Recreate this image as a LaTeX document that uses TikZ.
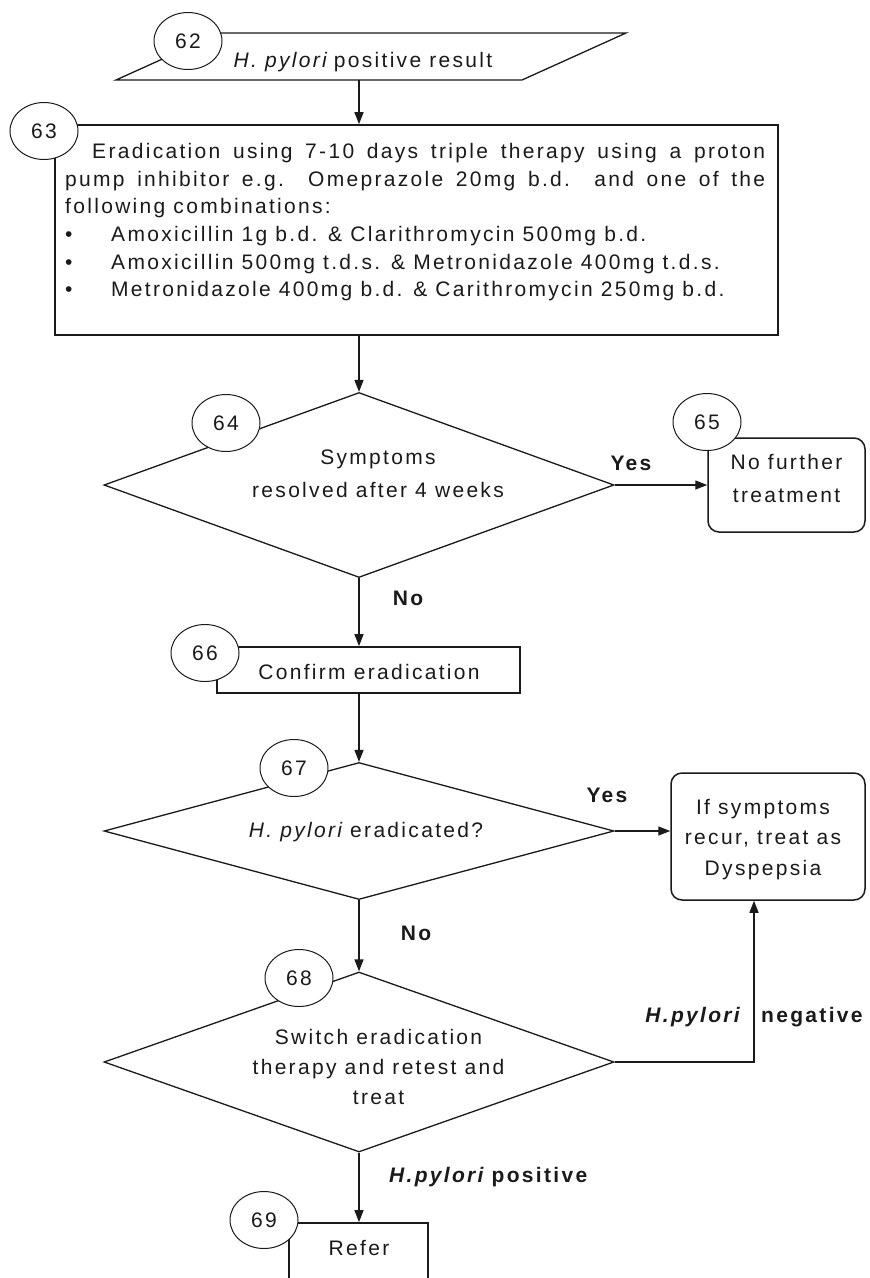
\documentclass[tikz,border=0pt]{standalone}
\usepackage{fontspec}
\setmainfont{Liberation Sans}[LetterSpace=11]
\usetikzlibrary{shapes.geometric,arrows.meta}
\definecolor{ink}{HTML}{1A1A1A}
\begin{document}
\begin{tikzpicture}[x=1pt,y=-1pt,
  font=\fontsize{21}{28.2}\selectfont, text=ink,
  every node/.style={inner sep=0pt},
  num/.style={ellipse, draw=ink, line width=1pt, fill=white,
    minimum width=68pt, minimum height=57pt},
  procbox/.style={rectangle, draw=ink, line width=1.7pt},
  endbox/.style={rectangle, rounded corners=11pt, draw=ink, line width=1.5pt},
  decision/.style={diamond, draw=ink, line width=1.3pt},
  flow/.style={draw=ink, line width=1.4pt, -{Triangle[length=12pt,width=9pt]}},
  lbl/.style={font=\fontsize{21}{28}\selectfont\bfseries},
  multi/.style={align=center}
]
\useasboundingbox[fill=white] (0,0) rectangle (870,1278);
\clip (0,0) rectangle (870,1278);

% 62: input parallelogram
\draw[ink, line width=1.3pt] (116,80) -- (220,33) -- (626,33) -- (522,80) -- cycle;
\coordinate (p62) at (359,80);
\node[anchor=base] (t62) at (363,67) {\itshape H. pylori\hspace{7pt}\upshape positive result};

% 63: eradication therapy
\node[procbox, minimum width=723pt, minimum height=210pt] (b63) at (416.5,230) {};
\node[anchor=north west, align=left, font=\fontsize{21}{27.6}\selectfont] (t63) at (65,143.2) {%
\hspace*{27pt}\makebox[673pt][s]{Eradication using 7-10 days triple therapy using a proton}\\
\makebox[700pt][s]{pump inhibitor e.g. Omeprazole 20mg b.d. and one of the}\\
following combinations:\\
\makebox[46pt][l]{\textbullet}Amoxicillin 1g b.d. \& Clarithromycin 500mg b.d.\\
\makebox[46pt][l]{\textbullet}Amoxicillin 500mg t.d.s. \& Metronidazole 400mg t.d.s.\\
\makebox[46pt][l]{\textbullet}Metronidazole 400mg b.d. \& Carithromycin 250mg b.d.};

% 64: decision
\node[decision, minimum width=510pt, minimum height=185pt] (d64) at (359,485) {};
\node[multi, font=\fontsize{21}{33}\selectfont] (t64) at (378,473.4) {Symptoms\\resolved after 4 weeks};

% 65: end
\node[endbox, minimum width=157pt, minimum height=94pt] (b65) at (786.5,485) {};
\node[multi, font=\fontsize{21}{33}\selectfont] (t65) at (786.5,478.3) {No further\\treatment};

% 66: process
\node[procbox, minimum width=303pt, minimum height=46pt] (b66) at (368.5,670) {};
\node[anchor=base] (t66) at (369,679.5) {Confirm eradication};

% 67: decision
\node[decision, minimum width=510pt, minimum height=137pt] (d67) at (359,831) {};
\node[anchor=base] (t67) at (366,837.5) {\itshape H. pylori\upshape\ eradicated?};

% Dyspepsia box
\node[endbox, minimum width=194pt, minimum height=127pt] (bD) at (768,836.5) {};
\node[multi, font=\fontsize{21}{30.5}\selectfont] (tD) at (763,839.5) {If symptoms\\recur, treat as\\Dyspepsia};

% 68: decision
\node[decision, minimum width=510pt, minimum height=180pt] (d68) at (359,1062) {};
\node[multi, font=\fontsize{21}{30}\selectfont] (t68) at (378.5,1066.8) {Switch eradication\\therapy and retest and\\treat};

% 69: refer
\node[procbox, minimum width=139pt, minimum height=100pt] (b69) at (358.5,1273) {};
\node[anchor=base] (t69) at (359,1255.5) {Refer};

% connectors
\coordinate (negturn) at (754,1062);
\draw[flow] (p62) -- (p62 |- b63.north);
\draw[flow] (d64.north |- b63.south) -- (d64.north);
\draw[flow] (d64.east) -- (d64.east -| b65.west);
\draw[flow] (d64.south) -- (d64.south |- b66.north);
\draw[flow] (d67.north |- b66.south) -- (d67.north);
\draw[flow] (d67.east) -- (d67.east -| bD.west);
\draw[flow] (d67.south) -- (d68.north);
\draw[flow] (d68.east) -- (negturn) -- (negturn |- bD.south);
\draw[flow] (d68.south) -- (d68.south |- b69.north);

% connector labels
\node[lbl, anchor=base] (yes1) at (631,470.5) {Yes};
\node[lbl, anchor=base] (no1) at (408,605.5) {No};
\node[lbl, anchor=base] (yes2) at (607,802.5) {Yes};
\node[lbl, anchor=base] (no2) at (416,940.5) {No};
\node[lbl, anchor=base east] (neg1) at (740,1022.5) {\itshape H.pylori};
\node[lbl, anchor=base west] (neg2) at (761,1022.5) {negative};
\node[lbl, anchor=base west] (pos) at (389,1182.5) {\itshape H.pylori\upshape\ positive};

% step numbers
\node[num] (c62) at (188,41) {62};
\node[num] (c63) at (44,131) {63};
\node[num] (c64) at (226,423) {64};
\node[num] (c65) at (707,422) {65};
\node[num] (c66) at (205,653) {66};
\node[num] (c67) at (294,768) {67};
\node[num] (c68) at (299,978) {68};
\node[num] (c69) at (264,1220) {69};
\end{tikzpicture}
\end{document}
